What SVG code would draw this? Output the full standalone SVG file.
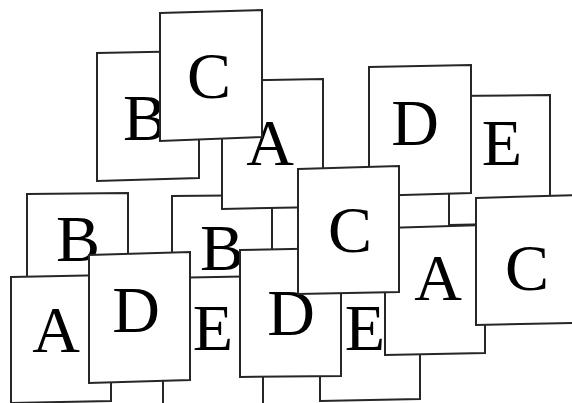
<svg xmlns="http://www.w3.org/2000/svg" width="572" height="403" viewBox="0 0 572 403">
<style>
.card polygon{fill:#fff;stroke:#262626;stroke-width:2;stroke-linejoin:miter}
.card text{font-family:"Liberation Serif","Times New Roman",serif;font-size:66px;fill:#000;text-anchor:middle}
</style>
<rect width="572" height="403" fill="#fff"/>
<g id="connectors"/>
<g id="card-B1" class="card"><polygon points="97,53 199,51 199,178 97,181"/><text x="145" y="140">B</text></g>
<g id="card-B3" class="card"><polygon points="172,196 272,195 272,322 172,324"/><text x="222" y="270">B</text></g>
<g id="card-A1" class="card"><polygon points="222,81 323,79 323,207 222,209"/><text x="270" y="165">A</text></g>
<g id="card-C1" class="card"><polygon points="160,13 262,10 262,137 160,141"/><text x="209" y="98">C</text></g>
<g id="card-E1" class="card"><polygon points="449,96 550,95 550,223 449,225"/><text x="502" y="165">E</text></g>
<g id="card-D1" class="card"><polygon points="369,67 471,65 471,193 369,196"/><text x="415" y="145">D</text></g>
<g id="card-E3" class="card"><polygon points="320,272 420,270 420,399 320,401"/><text x="365" y="350">E</text></g>
<g id="card-A2" class="card"><polygon points="385,228 485,225 485,353 385,355"/><text x="438" y="300">A</text></g>
<g id="card-C3" class="card"><polygon points="476,198 578,195 578,323 476,325"/><text x="527" y="290">C</text></g>
<g id="card-B2" class="card"><polygon points="27,194 128,193 128,320 27,322"/><text x="78" y="261">B</text></g>
<g id="card-A3" class="card"><polygon points="11,277 111,275 111,401 11,403"/><text x="56" y="352">A</text></g>
<g id="card-E2" class="card"><polygon points="163,278 263,276 263,404 163,406"/><text x="213" y="350">E</text></g>
<g id="card-D3" class="card"><polygon points="89,255 190,252 190,380 89,383"/><text x="136" y="332">D</text></g>
<g id="card-D2" class="card"><polygon points="240,250 341,248 341,376 240,377"/><text x="291" y="335">D</text></g>
<g id="card-C2" class="card"><polygon points="298,169 399,166 399,292 298,294"/><text x="350" y="252">C</text></g>
</svg>
